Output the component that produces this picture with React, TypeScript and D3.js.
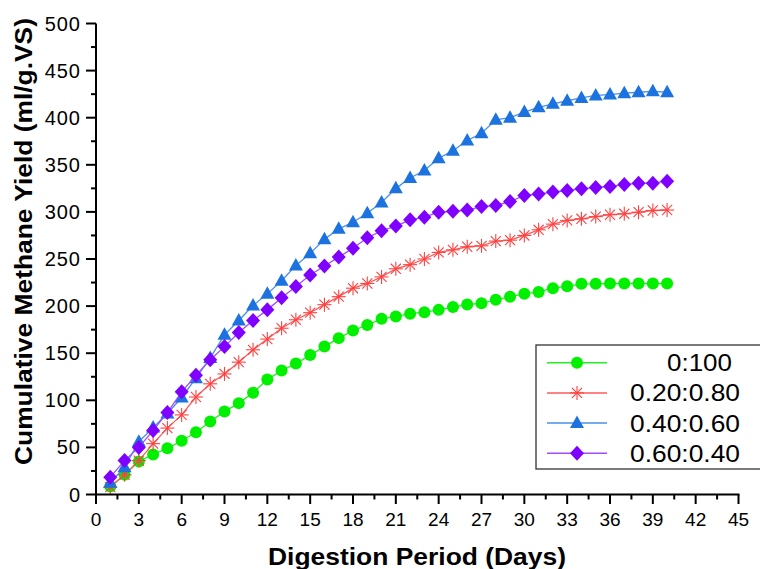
import React from "react";
import * as d3 from "d3";

// Digestion days
const days = [1, 2, 3, 4, 5, 6, 7, 8, 9, 10, 11, 12, 13, 14, 15, 16, 17, 18, 19, 20,
  21, 22, 23, 24, 25, 26, 27, 28, 29, 30, 31, 32, 33, 34, 35, 36, 37, 38, 39, 40];

// Cumulative methane yield (ml/g.VS) per mixing ratio
const ratio0_100 = [8.5, 21, 35, 42.5, 49, 57, 66, 77.5, 88, 97, 108, 122, 131.6, 139, 148,
  157, 166, 174, 180, 186.5, 189, 192, 193.5, 196, 199, 201.7, 203, 206.7, 210, 213,
  215, 219, 221, 223.7, 223.7, 224, 224, 224, 224, 224];
const ratio20_80 = [7.8, 21, 36, 54, 70.5, 84.5, 103.5, 117.5, 128, 140.5, 153.6, 165, 176.5,
  185.5, 193, 201.5, 210, 219, 224, 231, 239.6, 244, 250, 257, 259.7, 263, 264, 269, 270,
  275, 281, 287, 291, 292.7, 295, 297, 298, 299.7, 301.5, 302];
const ratio40_60 = [12.5, 29, 56, 71, 86, 103, 123.5, 145, 169.5, 184.7, 200.6, 213, 227, 243,
  256, 271, 282, 289, 298.6, 310, 325, 336, 344, 357, 365, 375.8, 383.5, 397.8, 400, 406,
  411, 414.7, 418, 421, 423.6, 424.6, 426, 427, 428, 427];
const ratio60_40 = [18.4, 36, 50, 68, 87, 109, 126.5, 143, 157, 172, 184.7, 196, 208.8, 220.8,
  233, 242.5, 252, 261.5, 272.5, 280, 285, 291.6, 294.4, 299.7, 300.7, 302, 305.7, 306.8,
  311, 317.4, 319, 321, 322.7, 324.5, 326, 327, 329, 330.5, 330.5, 332.6];

const seriesNames = ["0:100", "0.20:0.80", "0.40:0.60", "0.60:0.40"];
const xTicks = [0, 3, 6, 9, 12, 15, 18, 21, 24, 27, 30, 33, 36, 39, 42, 45];
const yTicks = [0, 50, 100, 150, 200, 250, 300, 350, 400, 450, 500];

const W = 760;
const H = 569;
const FONT = "'Liberation Sans', Arial, sans-serif";

type Marker = "circle" | "star" | "triangle" | "diamond";

const styles: { line: string; fill: string; marker: Marker }[] = [
  { line: "#22f022", fill: "#00f000", marker: "circle" },
  { line: "#ff5a5a", fill: "#ff4040", marker: "star" },
  { line: "#4a90e6", fill: "#1c72de", marker: "triangle" },
  { line: "#a24cff", fill: "#7f00ff", marker: "diamond" },
];

const seriesValues = [ratio0_100, ratio20_80, ratio40_60, ratio60_40];

function MarkerShape({ kind, x, y, color }: { kind: Marker; x: number; y: number; color: string }) {
  if (kind === "circle") return <circle cx={x} cy={y} r={6} fill={color} />;
  if (kind === "diamond")
    return <path d={`M${x},${y - 7.5}L${x + 7},${y}L${x},${y + 7.5}L${x - 7},${y}Z`} fill={color} />;
  if (kind === "triangle")
    return <path d={`M${x},${y - 7.5}L${x + 7},${y + 5}L${x - 7},${y + 5}Z`} fill={color} />;
  const r = 7;
  const d = r * 0.72;
  return (
    <g stroke={color} strokeWidth={1.1}>
      <line x1={x} y1={y - r} x2={x} y2={y + r} />
      <line x1={x - r} y1={y} x2={x + r} y2={y} />
      <line x1={x - d} y1={y - d} x2={x + d} y2={y + d} />
      <line x1={x - d} y1={y + d} x2={x + d} y2={y - d} />
    </g>
  );
}

export default function App() {
  const x = d3.scaleLinear().domain([0, 45]).range([96, 738.5]);
  const y = d3.scaleLinear().domain([0, 500]).range([494.5, 23.5]);

  const line = d3
    .line<number>()
    .x((_, i) => x(days[i]))
    .y((v) => y(v));

  const xMinor = d3.range(0, 46, 1.5).filter((v) => v % 3 !== 0);
  const yMinor = d3.range(25, 500, 50);

  return (
    <svg
      width={W}
      height={H}
      style={{ position: "absolute", left: 0, top: 0, display: "block", background: "#fff" }}
      fontFamily={FONT}
    >
      {/* series lines and markers */}
      {seriesValues.map((vals, si) => (
        <g key={si}>
          <path d={line(vals) || ""} fill="none" stroke={styles[si].line} strokeWidth={1.3} />
          {vals.map((v, i) => (
            <MarkerShape key={i} kind={styles[si].marker} x={x(days[i])} y={y(v)} color={styles[si].fill} />
          ))}
        </g>
      ))}

      {/* y axis */}
      <line x1={96} y1={y(500)} x2={96} y2={y(0) + 1} stroke="#000" strokeWidth={2} />
      {yTicks.map((t) => (
        <g key={t}>
          <line x1={86} x2={96} y1={y(t)} y2={y(t)} stroke="#000" strokeWidth={2} />
          <text x={81} y={y(t) + 7} textAnchor="end" fontSize={20} letterSpacing={1} fill="#000">
            {t}
          </text>
        </g>
      ))}
      {yMinor.map((t) => (
        <line key={t} x1={91} x2={96} y1={y(t)} y2={y(t)} stroke="#000" strokeWidth={2} />
      ))}

      {/* x axis */}
      <line x1={95} y1={494.5} x2={x(45) + 1} y2={494.5} stroke="#000" strokeWidth={2} />
      {xTicks.map((t) => (
        <g key={t}>
          <line x1={x(t)} x2={x(t)} y1={494.5} y2={504} stroke="#000" strokeWidth={2} />
          <text x={x(t)} y={526} textAnchor="middle" fontSize={19} fill="#000">
            {t}
          </text>
        </g>
      ))}
      {xMinor.map((t) => (
        <line key={t} x1={x(t)} x2={x(t)} y1={494.5} y2={499.5} stroke="#000" strokeWidth={2} />
      ))}

      {/* axis titles */}
      <text
        x={268}
        y={565}
        fontSize={23}
        fontWeight="bold"
        textLength={298}
        lengthAdjust="spacingAndGlyphs"
        fill="#000"
      >
        Digestion Period (Days)
      </text>
      <text
        transform="translate(32,465) rotate(-90)"
        x={0}
        y={0}
        fontSize={24}
        fontWeight="bold"
        textLength={447}
        lengthAdjust="spacingAndGlyphs"
        fill="#000"
      >
        Cumulative Methane Yield (ml/g.VS)
      </text>

      {/* legend */}
      <rect x={536} y={345} width={240} height={124} fill="#fff" stroke="#333" strokeWidth={1.3} />
      {seriesNames.map((name, i) => {
        const cy = 362.7 + i * 30.2;
        return (
          <g key={name}>
            <line x1={547} x2={607} y1={cy} y2={cy} stroke={styles[i].line} strokeWidth={1.5} />
            <MarkerShape kind={styles[i].marker} x={577} y={cy} color={styles[i].fill} />
            <text
              x={i === 0 ? 667 : 630}
              y={cy + 8.5}
              fontSize={24}
              textLength={i === 0 ? 65 : 110}
              lengthAdjust="spacingAndGlyphs"
              fill="#000"
            >
              {name}
            </text>
          </g>
        );
      })}
    </svg>
  );
}
